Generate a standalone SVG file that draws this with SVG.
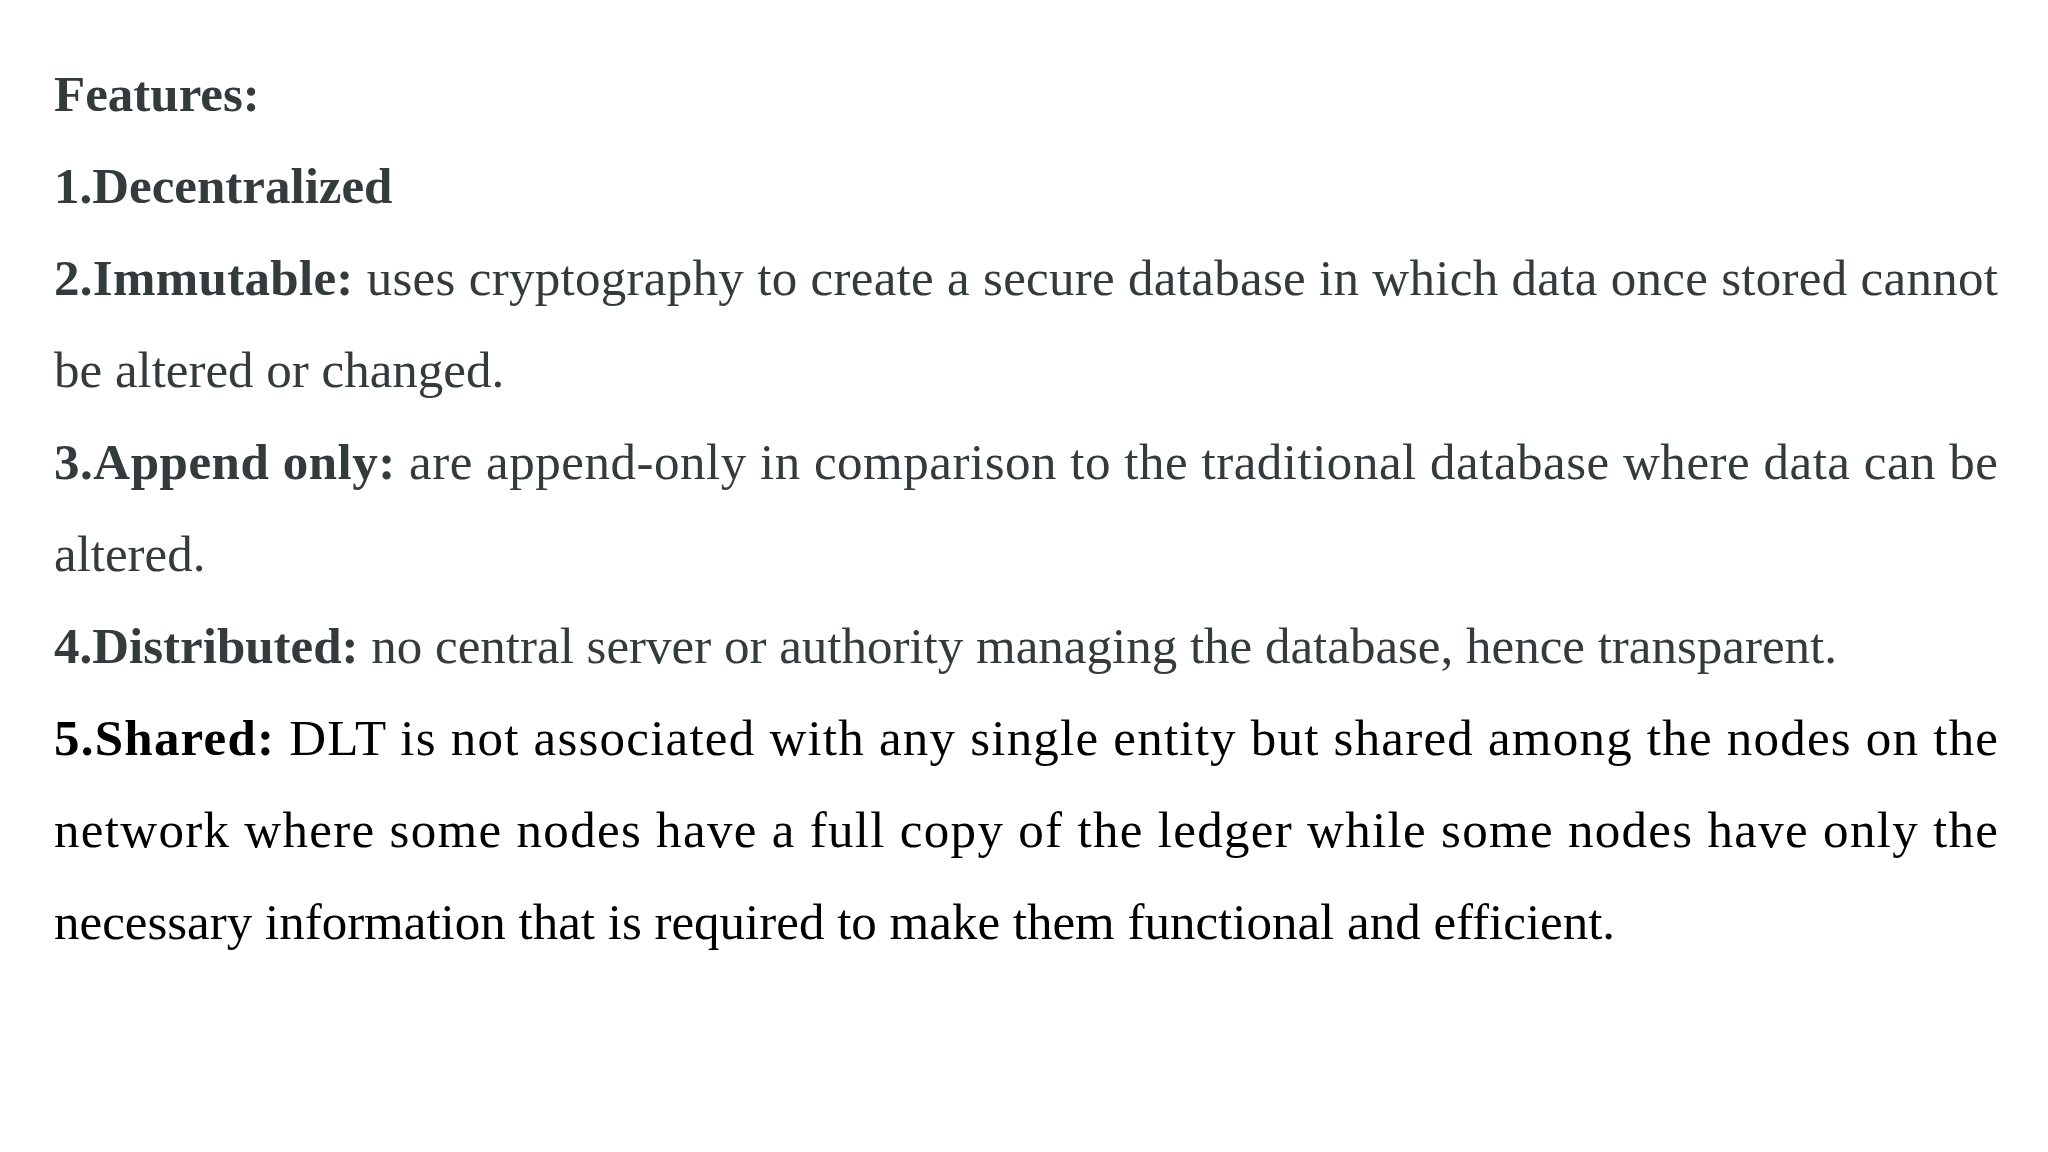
<svg xmlns="http://www.w3.org/2000/svg" width="2048" height="1152" viewBox="0 0 2048 1152">
<style>
text{font-family:"Liberation Serif","Times New Roman",serif;font-size:51px;fill:#333b3d}
.b{font-weight:bold}
.k{fill:#000}
</style>
<rect width="2048" height="1152" fill="#fff"/>
<g id="text">
<text x="54" y="111" class="b">Features:</text>
<text x="54" y="203" class="b">1.Decentralized</text>
<text x="54" y="295" textLength="1944" lengthAdjust="spacing"><tspan class="b">2.Immutable:</tspan> uses cryptography to create a secure database in which data once stored cannot</text>
<text x="54" y="387">be altered or changed.</text>
<text x="54" y="479" textLength="1944" lengthAdjust="spacing"><tspan class="b">3.Append only:</tspan> are append-only in comparison to the traditional database where data can be</text>
<text x="54" y="571">altered.</text>
<text x="54" y="663"><tspan class="b">4.Distributed:</tspan> no central server or authority managing the database, hence transparent.</text>
<text x="54" y="755" class="k" textLength="1944" lengthAdjust="spacing"><tspan class="b">5.Shared:</tspan>  DLT is not associated with any single entity but shared among the nodes on the</text>
<text x="54" y="847" class="k" textLength="1944" lengthAdjust="spacing">network where some nodes have a full copy of the ledger while some nodes have only the</text>
<text x="54" y="939" class="k">necessary information that is required to make them functional and efficient.</text>
</g>
</svg>
